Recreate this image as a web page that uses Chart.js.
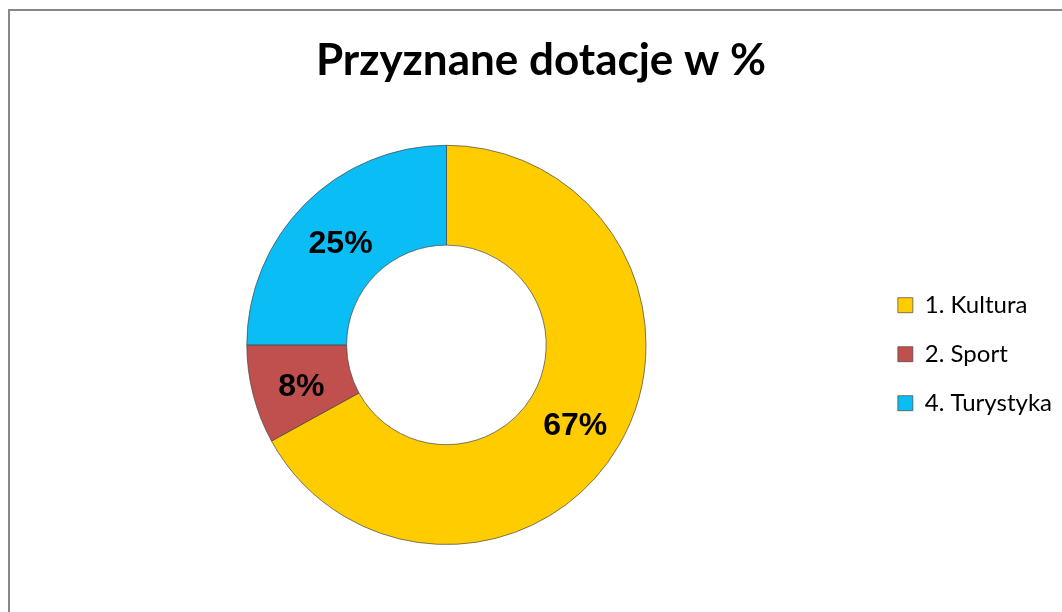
<!DOCTYPE html>
<html>
<head>
<meta charset="utf-8">
<title>Przyznane dotacje w %</title>
<script src="https://cdn.jsdelivr.net/npm/chart.js@4/dist/chart.umd.min.js"></script>
<style>
  html, body { margin: 0; padding: 0; background: #fff; }
  #wrap { position: relative; width: 1062px; height: 612px; overflow: hidden; }
  #frame {
    position: absolute; left: 8px; top: 9px; width: 1200px; height: 800px;
    border-top: 2px solid #878787; border-left: 2px solid #878787;
    pointer-events: none;
  }
</style>
</head>
<body>
<div id="wrap">
  <canvas id="donut-chart"></canvas>
  <div id="frame"></div>
</div>
<script>
// data
const categories = ["1. Kultura", "2. Sport", "4. Turystyka"];
const shares = [67, 8, 25];
const sliceColors = ["#FFCC00", "#C0504D", "#0BBDF5"];

// draws "67%" etc. in the middle of each ring slice
const percentLabels = {
  id: "percentLabels",
  afterDatasetsDraw(chart) {
    const ctx = chart.ctx;
    const meta = chart.getDatasetMeta(0);
    const values = chart.data.datasets[0].data;
    const total = values.reduce((a, b) => a + b, 0);
    ctx.save();
    ctx.font = "bold 32px 'Liberation Sans', Arial, sans-serif";
    ctx.fillStyle = "#000";
    ctx.textAlign = "center";
    ctx.textBaseline = "middle";
    meta.data.forEach((arc, i) => {
      const pos = arc.tooltipPosition();
      // small nudge down, the reference labels sit a bit below the ring middle
      ctx.fillText(Math.round((values[i] / total) * 100) + "%", pos.x, pos.y + 5);
    });
    ctx.restore();
  },
};

const ctx = document.getElementById("donut-chart").getContext("2d");
new Chart(ctx, {
  type: "doughnut",
  data: {
    labels: categories,
    datasets: [
      {
        data: shares,
        backgroundColor: sliceColors,
        borderColor: "rgba(70,70,70,0.7)",
        borderWidth: 1,
      },
    ],
  },
  options: {
    responsive: true,
    maintainAspectRatio: false,
    animation: false,
    cutout: "50%",
    layout: {
      padding: { left: 20, right: 0, top: 0, bottom: 67 },
    },
    plugins: {
      title: {
        display: true,
        text: "Przyznane dotacje w %",
        color: "#000",
        font: { family: "Lato", size: 44, weight: "bold" },
        padding: { top: 34, bottom: 58 },
      },
      legend: {
        position: "right",
        align: "start",
        // empty title only pushes the items down to the reference height
        title: { display: true, text: "", font: { size: 1 }, padding: { top: 267, bottom: 0 } },
        labels: {
          color: "#000",
          boxWidth: 15,
          boxHeight: 15,
          padding: 25,
          font: { family: "Lato", size: 24 },
        },
      },
      tooltip: { enabled: false },
    },
  },
  plugins: [percentLabels],
});
</script>
</body>
</html>
